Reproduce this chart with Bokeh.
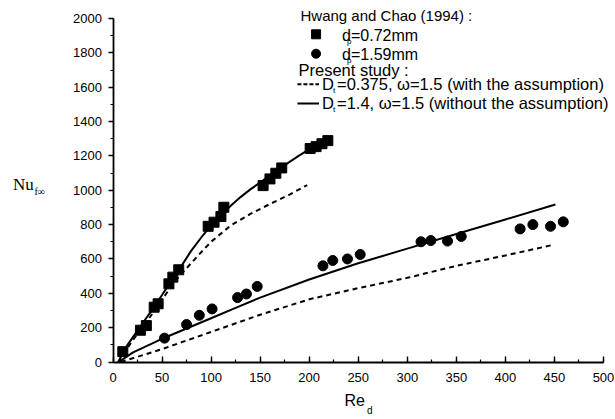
from bokeh.plotting import figure
from bokeh.models import Range1d, SingleIntervalTicker, Label
from bokeh.embed import file_html
from bokeh.resources import INLINE

# ---- data ----
sq_re = [10, 28, 34, 42, 46, 57, 61, 67, 97, 103, 110, 113, 153, 160, 166, 172, 201, 207, 213, 219]
sq_nu = [60, 185, 212, 319, 339, 455, 494, 537, 790, 814, 847, 901, 1027, 1066, 1099, 1130, 1243, 1254, 1271, 1289]

ci_re = [52.5, 75, 88, 101, 127, 136, 147, 214, 224, 239, 252, 314, 324, 341, 355, 415, 428, 446, 459]
ci_nu = [139, 218, 272, 309, 375, 396, 440, 560, 591, 600, 626, 700, 707, 704, 731, 775, 800, 790, 816]

sol1_re = [6, 10, 20, 30, 40, 50, 60, 67, 80, 90, 100, 110, 120, 130, 140, 150, 160, 170, 180, 190, 200, 210, 222]
sol1_nu = [0, 60, 142, 224, 305, 390, 478, 535, 650, 725, 795, 855, 910, 960, 1005, 1045, 1087, 1126, 1165, 1203, 1238, 1265, 1295]

dash1_re = [5, 20, 40, 60, 70, 90, 100, 120, 140, 160, 180, 198]
dash1_nu = [0, 125, 280, 445, 515, 640, 700, 795, 862, 920, 975, 1030]

sol2_re = [6, 20, 52, 75, 100, 125, 150, 200, 250, 300, 350, 400, 451]
sol2_nu = [0, 55, 140, 195, 255, 315, 375, 480, 575, 660, 745, 830, 917]

dash2_re = [8, 50, 100, 150, 200, 250, 300, 350, 400, 447]
dash2_nu = [0, 75, 175, 275, 365, 430, 490, 560, 620, 680]

x_ticks_step, y_ticks_step = 50, 200

# legend swatch anchors (data space)
leg_x0, leg_x1, leg_xm = 188, 210, 207
leg_y = [1908, 1795, 1617, 1505]

FONT = "Liberation Sans"
W, H = 614, 418

# data window chosen so that 0..500 / 0..2000 land where the reference axes are
kx, ky = 490.5 / 500.0, 343.5 / 2000.0
x0 = -112.5 / kx
y1 = 2000 + 18 / ky

p = figure(width=W, height=H, output_backend="svg", toolbar_location=None,
           x_range=Range1d(x0, x0 + W / kx), y_range=Range1d(y1 - H / ky, y1),
           min_border=0)
p.min_border_left = p.min_border_right = p.min_border_top = p.min_border_bottom = 0
p.outline_line_color = None
p.grid.visible = False
p.background_fill_color = "white"
p.border_fill_color = "white"

for ax in (p.xaxis[0], p.yaxis[0]):
    ax.fixed_location = 0
    ax.axis_line_width = 1.8
    ax.major_tick_line_width = 1.4
    ax.minor_tick_line_width = 1.2
    ax.major_label_text_font = FONT
    ax.major_label_text_font_size = "13px"
    ax.major_label_text_color = "black"
    ax.axis_line_color = "black"
    ax.major_tick_line_color = "black"
    ax.minor_tick_line_color = "black"

p.xaxis.bounds = (0, 500)
p.yaxis.bounds = (0, 2000)
p.xaxis.ticker = SingleIntervalTicker(interval=x_ticks_step, num_minor_ticks=2)
p.yaxis.ticker = SingleIntervalTicker(interval=y_ticks_step, num_minor_ticks=2)
p.xaxis.major_tick_in = 6
p.xaxis.major_tick_out = 0
p.xaxis.minor_tick_in = 3
p.xaxis.minor_tick_out = 0
p.xaxis.major_label_standoff = 11
p.yaxis.major_tick_in = 0
p.yaxis.major_tick_out = 5
p.yaxis.minor_tick_in = 0
p.yaxis.minor_tick_out = 3
p.yaxis.major_label_standoff = 6

# curves
p.line(sol1_re, sol1_nu, line_color="black", line_width=2)
p.line(dash1_re, dash1_nu, line_color="black", line_width=2, line_dash="5 4")
p.line(sol2_re, sol2_nu, line_color="black", line_width=2)
p.line(dash2_re, dash2_nu, line_color="black", line_width=2, line_dash="5 4")

# data points
p.scatter(sq_re, sq_nu, marker="square", size=10, color="black")
p.scatter(ci_re, ci_nu, marker="circle", size=10, color="black")

# legend swatches
p.scatter([leg_xm], [leg_y[0]], marker="square", size=9, color="black")
p.scatter([leg_xm], [leg_y[1]], marker="circle", size=9, color="black")
p.line([leg_x0, leg_x1], [leg_y[2], leg_y[2]], line_color="black", line_width=2, line_dash="4 2")
p.line([leg_x0, leg_x1], [leg_y[3], leg_y[3]], line_color="black", line_width=2)


def lab(text, px, py, size, font=FONT):
    # px, py: position from the top-left of the picture
    p.add_layout(Label(x=px, y=H - py, x_units="screen", y_units="screen", text=text,
                       text_font=font, text_font_size=size, text_color="black",
                       text_align="left", text_baseline="middle"))


# legend texts
lab("Hwang and Chao (1994) :", 300, 15, "15px")
lab("d", 341.5, 35, "16px")
lab("p", 346.5, 41, "8px")
lab("=0.72mm", 350.5, 35, "16px")
lab("d", 341.5, 54, "16px")
lab("p", 346.5, 60, "8px")
lab("=1.59mm", 350.5, 54, "16px")
lab("Present study :", 298, 69, "16.5px")
lab("D", 321.5, 83.5, "16.5px")
lab("t", 332.5, 89.5, "8px")
lab("=0.375, \u03c9=1.5 (with the assumption)", 336.5, 83.5, "16.5px")
lab("D", 321.5, 102.5, "16.5px")
lab("t", 332.5, 108.5, "8px")
lab("=1.4, \u03c9=1.5 (without the assumption)", 336.5, 102.5, "16.5px")

# axis titles
lab("Nu", 12.5, 184, "17px", font="Liberation Serif")
lab("f\u221e", 34, 191, "10px", font="Liberation Serif")
lab("Re", 344, 400, "16px")
lab("d", 366.5, 410, "10px")

open("out.html", "w").write(file_html(p, INLINE))
